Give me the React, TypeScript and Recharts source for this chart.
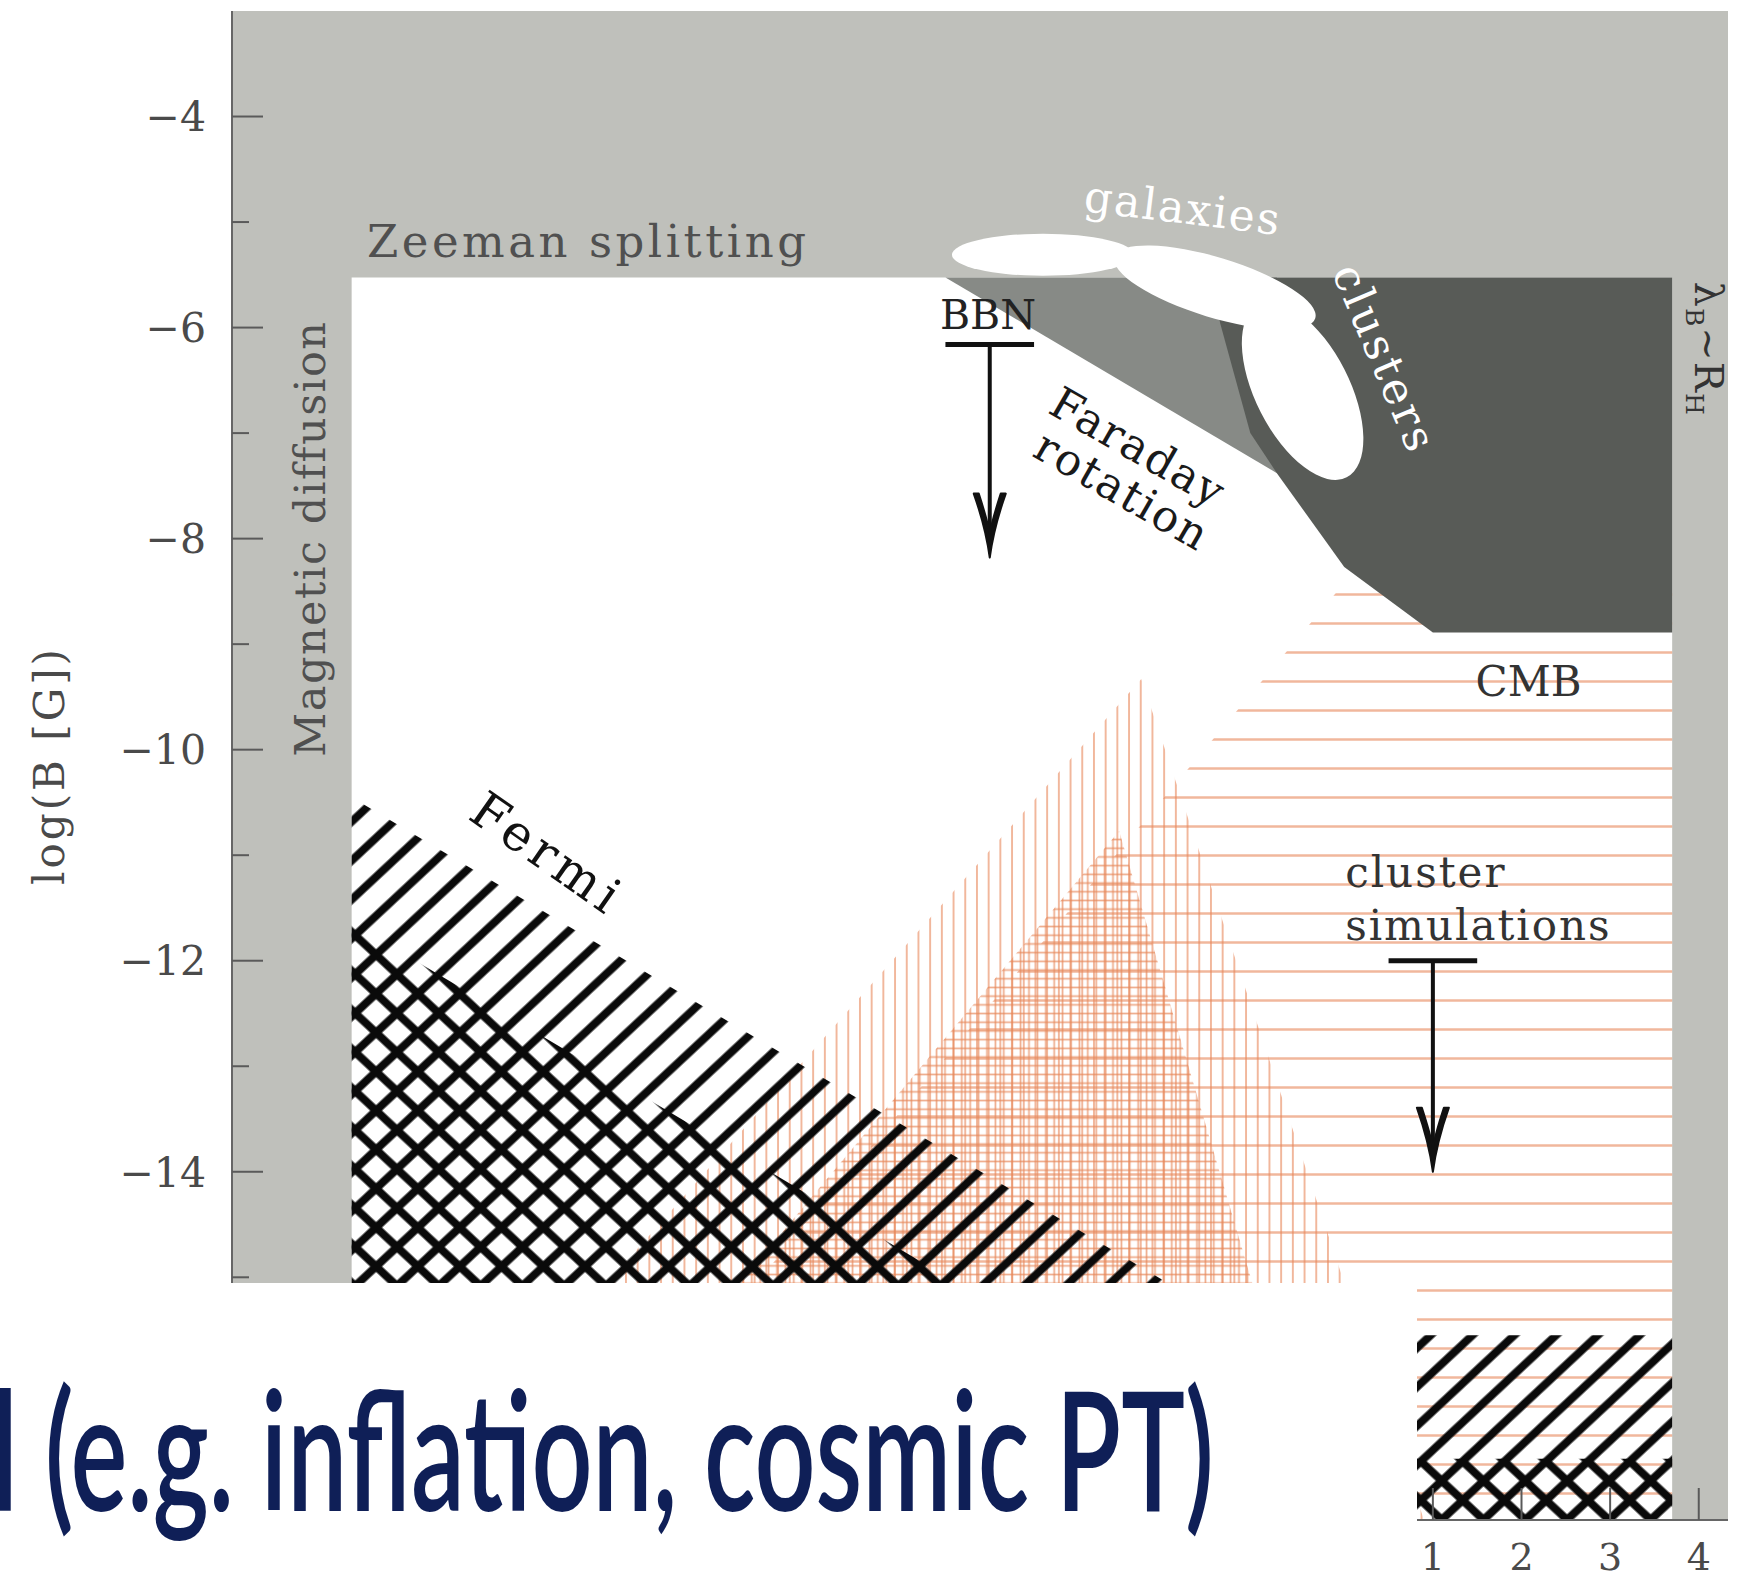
import React from 'react';
import { ComposedChart, XAxis, YAxis, Area, Line, Scatter, Label } from 'recharts';

// axes: log(lambda_B [Mpc]) horizontally, log(B [G]) vertically
const X_DOMAIN: [number, number] = [-12.55, 4.33];
const Y_DOMAIN: [number, number] = [-17.3, -3];
const X_TICKS = [-12, -11, -10, -9, -8, -7, -6, -5, -4, -3, -2, -1, 0, 1, 2, 3, 4];
const Y_TICKS = [-17, -16, -15, -14, -13, -12, -11, -10, -9, -8, -7, -6, -5, -4];
// only these tick values carry a label that is not hidden by the slide text box
const X_LABELS = [1, 2, 3, 4];
const Y_LABELS = [-14, -12, -10, -8, -6, -4];

// regions, each point holds [lower, upper] log B at a given log lambda
const frameBand = [
  { x: -12.55, r: [-17.3, -3] },
  { x: 4.33, r: [-17.3, -3] },
];
const openWindow = [
  { x: -11.2, r: [-17.3, -5.525] },
  { x: 3.7, r: [-17.3, -5.525] },
];
const faradayBand = [
  { x: -4.5, r: [-5.525, -5.525] },
  { x: -0.76, r: [-7.38, -5.525] },
];
const clusterBand = [
  { x: -1.5, r: [-5.525, -5.525] },
  { x: -1.4, r: [-5.96, -5.525] },
  { x: -1.06, r: [-7.0, -5.525] },
  { x: -0.76, r: [-7.38, -5.525] },
  { x: 0, r: [-8.27, -5.525] },
  { x: 1.0, r: [-8.89, -5.525] },
  { x: 3.7, r: [-8.89, -5.525] },
];
const cmbBand = [
  { x: -8.88, r: [-17.3, -17.3] },
  { x: 0, r: [-17.3, -8.42] },
  { x: 3.7, r: [-17.3, -8.42] },
];
const sparseBand = [
  { x: -10.68, r: [-17.3, -17.3] },
  { x: -2.29, r: [-17.3, -9.33] },
  { x: 0.9, r: [-17.3, -17.3] },
];
const denseBand = [
  { x: -9.07, r: [-17.3, -17.3] },
  { x: -2.54, r: [-17.3, -10.77] },
  { x: -0.25, r: [-17.3, -17.3] },
];
const fermiUpper = [
  { x: -11.2, r: [-17.3, -10.45] },
  { x: -1.0, r: [-17.3, -15.55] },
  { x: 3.7, r: [-17.3, -15.55] },
];
const fermiLower = [
  { x: -11.2, r: [-17.3, -11.64] },
  { x: -1.04, r: [-17.3, -16.72] },
  { x: 3.7, r: [-17.3, -16.72] },
];

const structures = [
  { id: 'galaxy1', x: -3.4, y: -5.31 },
  { id: 'galaxy2', x: -1.46, y: -5.62 },
  { id: 'cluster', x: -0.47, y: -6.6 },
];

const bbnBar = [
  { x: -4.5, y: -6.16 },
  { x: -3.5, y: -6.16 },
];
const bbnShaft = [
  { x: -4, y: -6.16 },
  { x: -4, y: -8.0 },
];
const simBar = [
  { x: 0.5, y: -12 },
  { x: 1.5, y: -12 },
];
const simShaft = [
  { x: 1, y: -12 },
  { x: 1, y: -13.8 },
];
const arrowTips = [
  { x: -4, y: -8.18 },
  { x: 1, y: -14 },
];

const annotations = [
  { id: 'zeeman', text: 'Zeeman splitting', x: -8.53, y: -5.33 },
  { id: 'diffusion', text: 'Magnetic diffusion', x: -11.5, y: -8.0 },
  { id: 'galaxies', text: 'galaxies', x: -1.84, y: -5.01 },
  { id: 'clusters', text: 'clusters', x: 0.3, y: -6.35 },
  { id: 'bbn', text: 'BBN', x: -4.02, y: -6.01 },
  { id: 'faraday', text: 'Faraday', x: -2.41, y: -7.26 },
  { id: 'rotation', text: 'rotation', x: -2.59, y: -7.67 },
  { id: 'fermi', text: 'Fermi', x: -9.1, y: -11.12 },
  { id: 'cmb', text: 'CMB', x: 2.08, y: -9.49 },
  { id: 'cluster', text: 'cluster', x: 0.01, y: -11.3 },
  { id: 'simulations', text: 'simulations', x: 0.01, y: -11.8 },
  { id: 'horizon', text: 'λB~RH', x: 3.955, y: -6.2 },
];

const hidden = [{ x: 0, y: -10 }];

const SLIDE_TEXT = 'l (e.g. inflation, cosmic PT)';

const SERIF = '"DejaVu Serif", serif';
const GRAY = '#bfc0bb';
const MID = '#878a86';
const DARK = '#585b57';
const ORANGE = '#e8875a';

const ELLIPSE: Record<string, { rx: number; ry: number; angle: number }> = {
  galaxy1: { rx: 91, ry: 21, angle: 0 },
  galaxy2: { rx: 105, ry: 30, angle: 17 },
  cluster: { rx: 47, ry: 97, angle: -27 },
};

const TEXT: Record<string, { size: number; color: string; angle: number; spacing: number }> = {
  zeeman: { size: 45, color: '#505050', angle: 0, spacing: 3.5 },
  diffusion: { size: 43, color: '#505050', angle: -90, spacing: 1.5 },
  galaxies: { size: 44, color: '#fff', angle: 7, spacing: 2 },
  clusters: { size: 44, color: '#fff', angle: 67, spacing: 3 },
  bbn: { size: 41, color: '#222', angle: 0, spacing: 0 },
  faraday: { size: 44, color: '#1a1a1a', angle: 30, spacing: 2 },
  rotation: { size: 44, color: '#1a1a1a', angle: 30, spacing: 2 },
  fermi: { size: 50, color: '#111', angle: 35, spacing: 5 },
  cmb: { size: 42, color: '#333', angle: 0, spacing: 0 },
  cluster: { size: 42, color: '#333', angle: 0, spacing: 2 },
  simulations: { size: 42, color: '#333', angle: 0, spacing: 2 },
  horizon: { size: 40, color: '#333', angle: 90, spacing: 1 },
};
const START_ANCHORED = ['cluster', 'simulations'];

const fmt = (v: number) => (v < 0 ? `\u2212${-v}` : `${v}`);

const LeftTick = ({ x, y, payload }: any) => {
  const major = payload.value % 2 === 0;
  return (
    <g>
      <line x1={x} y1={y} x2={x + (major ? 31 : 17)} y2={y} stroke="#5a5a5a" strokeWidth={2} />
      {Y_LABELS.includes(payload.value) && (
        <text x={x - 26} y={y} dy="0.36em" textAnchor="end" fontFamily={SERIF} fontSize={41} fill="#4a4a4a">
          {fmt(payload.value)}
        </text>
      )}
    </g>
  );
};

const RightTick = ({ x, y, payload }: any) => {
  const major = payload.value % 2 === 0;
  return <line x1={x} y1={y} x2={x - (major ? 31 : 17)} y2={y} stroke="#5a5a5a" strokeWidth={2} />;
};

const TopTick = ({ x, y }: any) => (
  <line x1={x} y1={y} x2={x} y2={y + 32} stroke="#5a5a5a" strokeWidth={2} />
);

const BottomTick = ({ x, y, payload }: any) => (
  <g>
    <line x1={x} y1={y} x2={x} y2={y - 32} stroke="#5a5a5a" strokeWidth={2} />
    {X_LABELS.includes(payload.value) && (
      <text x={x} y={y + 36} dy="0.36em" textAnchor="middle" fontFamily={SERIF} fontSize={38} fill="#4a4a4a">
        {fmt(payload.value)}
      </text>
    )}
  </g>
);

const EllipseShape = ({ cx, cy, payload }: any) => {
  const e = ELLIPSE[payload.id];
  return (
    <ellipse
      cx={cx}
      cy={cy}
      rx={e.rx}
      ry={e.ry}
      fill="#fff"
      transform={`rotate(${e.angle} ${cx} ${cy})`}
    />
  );
};

const TextShape = ({ cx, cy, payload }: any) => {
  const s = TEXT[payload.id];
  const common = {
    x: cx,
    y: cy,
    fontFamily: SERIF,
    fontSize: s.size,
    fill: s.color,
    letterSpacing: s.spacing,
    textAnchor: START_ANCHORED.includes(payload.id) ? 'start' : 'middle',
    transform: `rotate(${s.angle} ${cx} ${cy})`,
  } as any;
  if (payload.id === 'horizon') {
    return (
      <text {...common}>
        λ
        <tspan dy={9} fontSize={25}>B</tspan>
        <tspan dy={-9}>~R</tspan>
        <tspan dy={9} fontSize={25}>H</tspan>
      </text>
    );
  }
  return <text {...common}>{payload.text}</text>;
};

// barbed arrow head, tip sits on the data point
const ArrowHead = ({ cx, cy }: any) => (
  <path
    d={`M${cx - 16},${cy - 64} Q${cx - 4},${cy - 30} ${cx},${cy} Q${cx + 4},${cy - 30} ${cx + 16},${cy - 64}
        L${cx + 11},${cy - 64} Q${cx + 2},${cy - 36} ${cx},${cy - 24} Q${cx - 2},${cy - 36} ${cx - 11},${cy - 64} Z`}
    fill="#111"
    stroke="#111"
    strokeWidth={2}
    strokeLinejoin="round"
  />
);

const region = (data: any[], fill: string) => (
  <Area
    data={data}
    dataKey="r"
    type="linear"
    stroke="none"
    fill={fill}
    fillOpacity={1}
    dot={false}
    activeDot={false}
    isAnimationActive={false}
  />
);

// slide caption squeezed horizontally to the width it has on the slide
const SlideCaption = () => {
  const ref = React.useRef<SVGTextElement>(null);
  const [sx, setSx] = React.useState(0.6);
  React.useLayoutEffect(() => {
    if (ref.current) {
      const w = ref.current.getComputedTextLength();
      if (w > 0) setSx(1222 / w);
    }
  }, []);
  return (
    <text
      ref={ref}
      x={0}
      y={0}
      transform={`translate(-8 1511) scale(${sx} 1)`}
      fontFamily="Lato, sans-serif"
      fontWeight={600}
      fontSize={166}
      fill="#0f1f57"
    >
      {SLIDE_TEXT}
    </text>
  );
};

export default function App() {
  return (
    <div style={{ position: 'relative', width: 1750, height: 1578, background: '#fff' }}>
      <style>{'body{margin:0}'}</style>
      <ComposedChart width={1750} height={1578} margin={{ top: 11, right: 22, bottom: 0, left: 0 }}>
        <defs>
          <pattern id="hatchFwd" patternUnits="userSpaceOnUse" width={28.5} height={28.5} patternTransform="rotate(47)">
            <line x1={14.25} y1={-2} x2={14.25} y2={31} stroke="#0a0a0a" strokeWidth={8} />
          </pattern>
          <pattern id="hatchBack" patternUnits="userSpaceOnUse" width={28.5} height={28.5} patternTransform="rotate(-47)">
            <line x1={14.25} y1={-2} x2={14.25} y2={31} stroke="#0a0a0a" strokeWidth={8} />
          </pattern>
          <pattern id="vSparse" patternUnits="userSpaceOnUse" width={11.7} height={20}>
            <line x1={5.85} y1={-1} x2={5.85} y2={21} stroke={ORANGE} strokeWidth={2} strokeOpacity={0.6} />
          </pattern>
          <pattern id="dense" patternUnits="userSpaceOnUse" width={8.4} height={8.7}>
            <line x1={4.2} y1={-1} x2={4.2} y2={10} stroke={ORANGE} strokeWidth={1.7} strokeOpacity={0.7} />
            <line x1={-1} y1={4.35} x2={10} y2={4.35} stroke={ORANGE} strokeWidth={1.7} strokeOpacity={0.7} />
          </pattern>
          <pattern id="hCmb" patternUnits="userSpaceOnUse" width={20} height={29}>
            <line x1={-1} y1={14.5} x2={21} y2={14.5} stroke={ORANGE} strokeWidth={2.5} strokeOpacity={0.6} />
          </pattern>
        </defs>
        <XAxis
          dataKey="x"
          type="number"
          domain={X_DOMAIN}
          ticks={X_TICKS}
          interval={0}
          allowDataOverflow
          height={58}
          tickSize={0}
          tickMargin={0}
          tickLine={false}
          tick={<BottomTick />}
          axisLine={{ stroke: '#666', strokeWidth: 2 }}
        />
        <XAxis
          xAxisId="top"
          orientation="top"
          dataKey="x"
          type="number"
          domain={X_DOMAIN}
          ticks={X_TICKS}
          interval={0}
          allowDataOverflow
          height={0}
          tickSize={0}
          tickMargin={0}
          tickLine={false}
          tick={<TopTick />}
          axisLine={{ stroke: '#666', strokeWidth: 2 }}
        />
        <YAxis
          type="number"
          domain={Y_DOMAIN}
          ticks={Y_TICKS}
          interval={0}
          allowDataOverflow
          width={232}
          tickSize={0}
          tickMargin={0}
          tickLine={false}
          tick={<LeftTick />}
          axisLine={{ stroke: '#666', strokeWidth: 2 }}
        >
          <Label
            content={({ viewBox }: any) => {
              const cx = viewBox.x + 64;
              const cy = viewBox.y + viewBox.height / 2;
              return (
                <text
                  x={cx}
                  y={cy}
                  textAnchor="middle"
                  fontFamily={SERIF}
                  fontSize={42}
                  letterSpacing={3}
                  fill="#4a4a4a"
                  transform={`rotate(-90 ${cx} ${cy})`}
                >
                  log(B [G])
                </text>
              );
            }}
          />
        </YAxis>
        <YAxis
          yAxisId="right"
          orientation="right"
          type="number"
          domain={Y_DOMAIN}
          ticks={Y_TICKS}
          interval={0}
          allowDataOverflow
          width={0}
          tickSize={0}
          tickMargin={0}
          tickLine={false}
          tick={<RightTick />}
          axisLine={{ stroke: '#666', strokeWidth: 2 }}
        />

        {region(frameBand, GRAY)}
        {region(openWindow, '#ffffff')}
        {region(cmbBand, 'url(#hCmb)')}
        {region(sparseBand, 'url(#vSparse)')}
        {region(denseBand, 'url(#dense)')}
        {region(faradayBand, MID)}
        {region(clusterBand, DARK)}
        {region(fermiUpper, 'url(#hatchFwd)')}
        {region(fermiLower, 'url(#hatchBack)')}

        <Scatter data={structures} dataKey="y" shape={<EllipseShape />} isAnimationActive={false} />

        <Line data={bbnBar} dataKey="y" stroke="#111" strokeWidth={5} dot={false} activeDot={false} isAnimationActive={false} />
        <Line data={bbnShaft} dataKey="y" stroke="#111" strokeWidth={4} dot={false} activeDot={false} isAnimationActive={false} />
        <Line data={simBar} dataKey="y" stroke="#111" strokeWidth={5} dot={false} activeDot={false} isAnimationActive={false} />
        <Line data={simShaft} dataKey="y" stroke="#111" strokeWidth={4} dot={false} activeDot={false} isAnimationActive={false} />
        <Scatter data={arrowTips} dataKey="y" shape={<ArrowHead />} isAnimationActive={false} />

        <Scatter data={annotations} dataKey="y" shape={<TextShape />} isAnimationActive={false} />
        <Scatter
          data={hidden}
          dataKey="y"
          xAxisId="top"
          yAxisId="right"
          shape={() => <g />}
          isAnimationActive={false}
        />
      </ComposedChart>
      <svg
        width={1750}
        height={1578}
        style={{ position: 'absolute', left: 0, top: 0, pointerEvents: 'none' }}
      >
        <rect x={0} y={1283} width={1417} height={295} fill="#fff" />
        <SlideCaption />
      </svg>
    </div>
  );
}
